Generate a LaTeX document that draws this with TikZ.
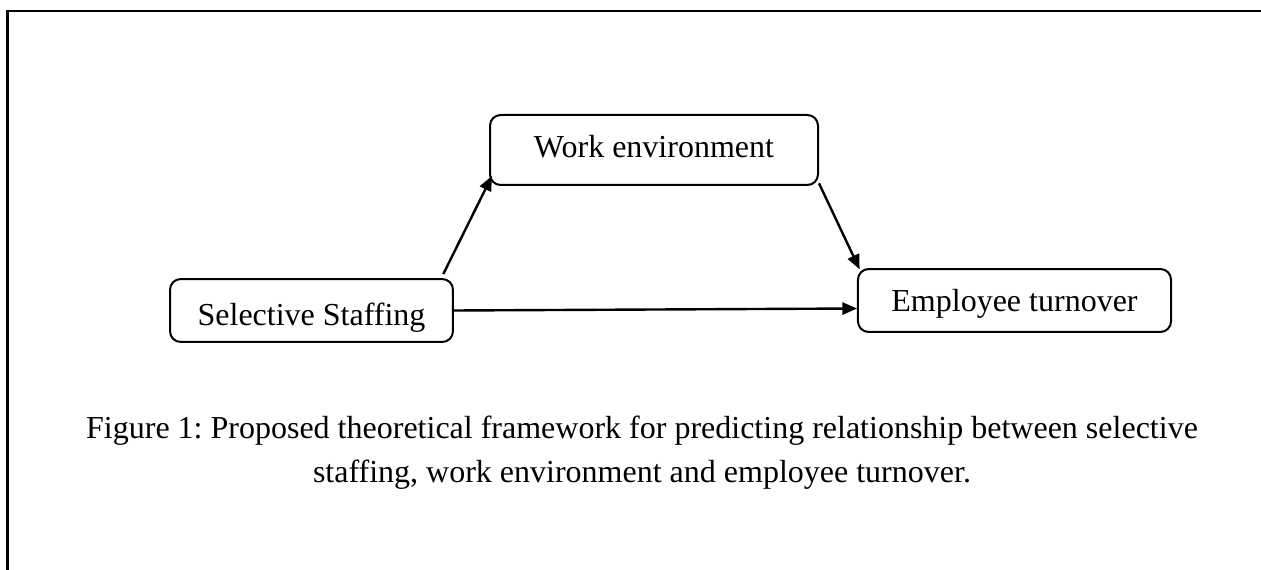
\documentclass[tikz,border=0pt]{standalone}
\usepackage{fontspec}
\setmainfont{Liberation Serif}
\usetikzlibrary{arrows.meta, positioning, calc}

\begin{document}
\frenchspacing
\begin{tikzpicture}[
  x=0.375pt, y=-0.375pt,
  % all three boxes share the outline; sizes are set per node
  box/.style={
    draw, rounded corners=4pt, line width=0.75pt, inner sep=0pt,
    font=\fontsize{12}{14}\selectfont, align=center, text depth=0pt
  },
  flow/.style={-{Triangle[length=5.5pt,width=4.6pt]}, line width=0.9pt},
  frame/.style={line width=0.85pt},
  caption/.style={font=\fontsize{12}{16.5}\selectfont, align=center, inner sep=0pt}
]

\useasboundingbox (0,0) rectangle (1261,570);

% --- page rule, top and left -------------------------------------------------
\draw[frame] (7.5,570) -- (7.5,11) -- (1261,11);

% --- the three constructs ----------------------------------------------------
\node[box, minimum width=123pt, minimum height=26.25pt, text height=5.3pt] (work) at (654,150)
  {Work environment};
\node[box, minimum width=106.1pt, minimum height=23.6pt, text height=10.9pt] (staff) at (311.5,310.5)
  {Selective Staffing};
\node[box, minimum width=117.4pt, minimum height=23.6pt, text height=8.6pt] (turn) at (1014.5,300.5)
  {Employee turnover};

% --- paths -------------------------------------------------------------------
\draw[flow] ([xshift=-4pt,yshift=1.5pt]staff.north east) -- ([shift={(1.1pt,3.75pt)}]work.south west);
\draw[flow] ([yshift=1pt]work.south east) -- ([shift={(1pt,-0.5pt)}]turn.north west);
\draw[flow] (staff.east) -- ([yshift=-3pt]turn.west);

% --- caption -----------------------------------------------------------------
\node[caption, anchor=north] (cap) at (642,415)
  {Figure 1: Proposed theoretical framework for predicting relationship between selective\\
   staffing, work environment and employee turnover.};

\end{tikzpicture}
\end{document}
